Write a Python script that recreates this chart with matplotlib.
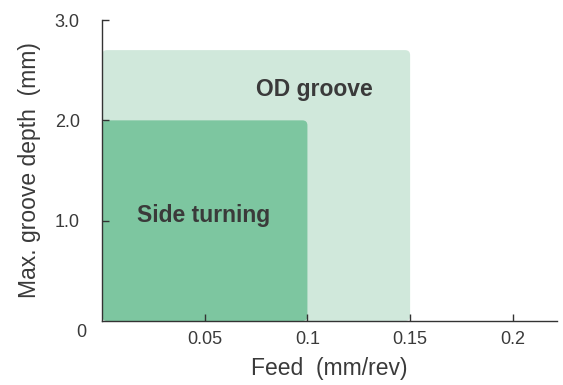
import matplotlib
matplotlib.use("Agg")
import matplotlib.pyplot as plt
from matplotlib.patches import FancyBboxPatch

plt.rcParams['font.family'] = ['Liberation Sans', 'DejaVu Sans']

# application areas: (label, max feed, max depth)
regions = ["OD groove", "Side turning"]
max_feed = [0.15, 0.1]
max_depth = [2.7, 2.0]
region_colors = ["#d0e8db", "#7dc6a0"]
label_pos = [(0.1035, 2.31), (0.0495, 1.05)]

x_ticks = [0.05, 0.1, 0.15, 0.2]
x_labels = ["0.05", "0.1", "0.15", "0.2"]
y_ticks = [1.0, 2.0, 3.0]
y_labels = ["1.0", "2.0", "3.0"]

fig = plt.figure(figsize=(5.63, 3.85), dpi=100)
ax = fig.add_axes([0.1812, 0.1662, 0.8081, 0.7818])
ax.set_xlim(0, 0.2215)
ax.set_ylim(0, 3.0)

# aspect between y and x data units per pixel, for round corners
bb = ax.get_position()
px_x = 0.2215 / (bb.width * 563)
px_y = 3.0 / (bb.height * 385)
aspect = px_y / px_x
r = 5 * px_x

for name, fx, d, c, (tx, ty) in zip(regions, max_feed, max_depth, region_colors, label_pos):
    p = FancyBboxPatch((0, 0), fx, d,
                       boxstyle="round,pad=0,rounding_size=%f" % r,
                       mutation_aspect=aspect, fc=c, ec="none", zorder=1)
    ax.add_patch(p)
    ax.text(tx, ty, name, ha="center", va="center", fontsize=16.5,
            fontweight="bold", color="#3a3a3a", zorder=3)

for s in ["top", "right"]:
    ax.spines[s].set_visible(False)
for s in ["left", "bottom"]:
    ax.spines[s].set_color("#333333")
    ax.spines[s].set_linewidth(1.0)
    ax.spines[s].set_zorder(4)

ax.set_xticks(x_ticks)
ax.set_xticklabels(x_labels)
ax.set_yticks(y_ticks)
ax.set_yticklabels(y_labels)
ax.tick_params(direction="in", length=5, width=1, color="#333333",
               labelsize=13, labelcolor="#3a3a3a", pad=7)
ax.tick_params(axis="y", pad=16)
ax.text(-0.0103, -0.11, "0", ha="center", va="center", fontsize=13,
        color="#3a3a3a", clip_on=False)

ax.set_xlabel("Feed  (mm/rev)", fontsize=16.5, color="#3a3a3a", labelpad=7)
ax.set_ylabel("Max. groove depth  (mm)", fontsize=16.5, color="#3a3a3a", labelpad=10)

fig.savefig("out.png", dpi=100)
